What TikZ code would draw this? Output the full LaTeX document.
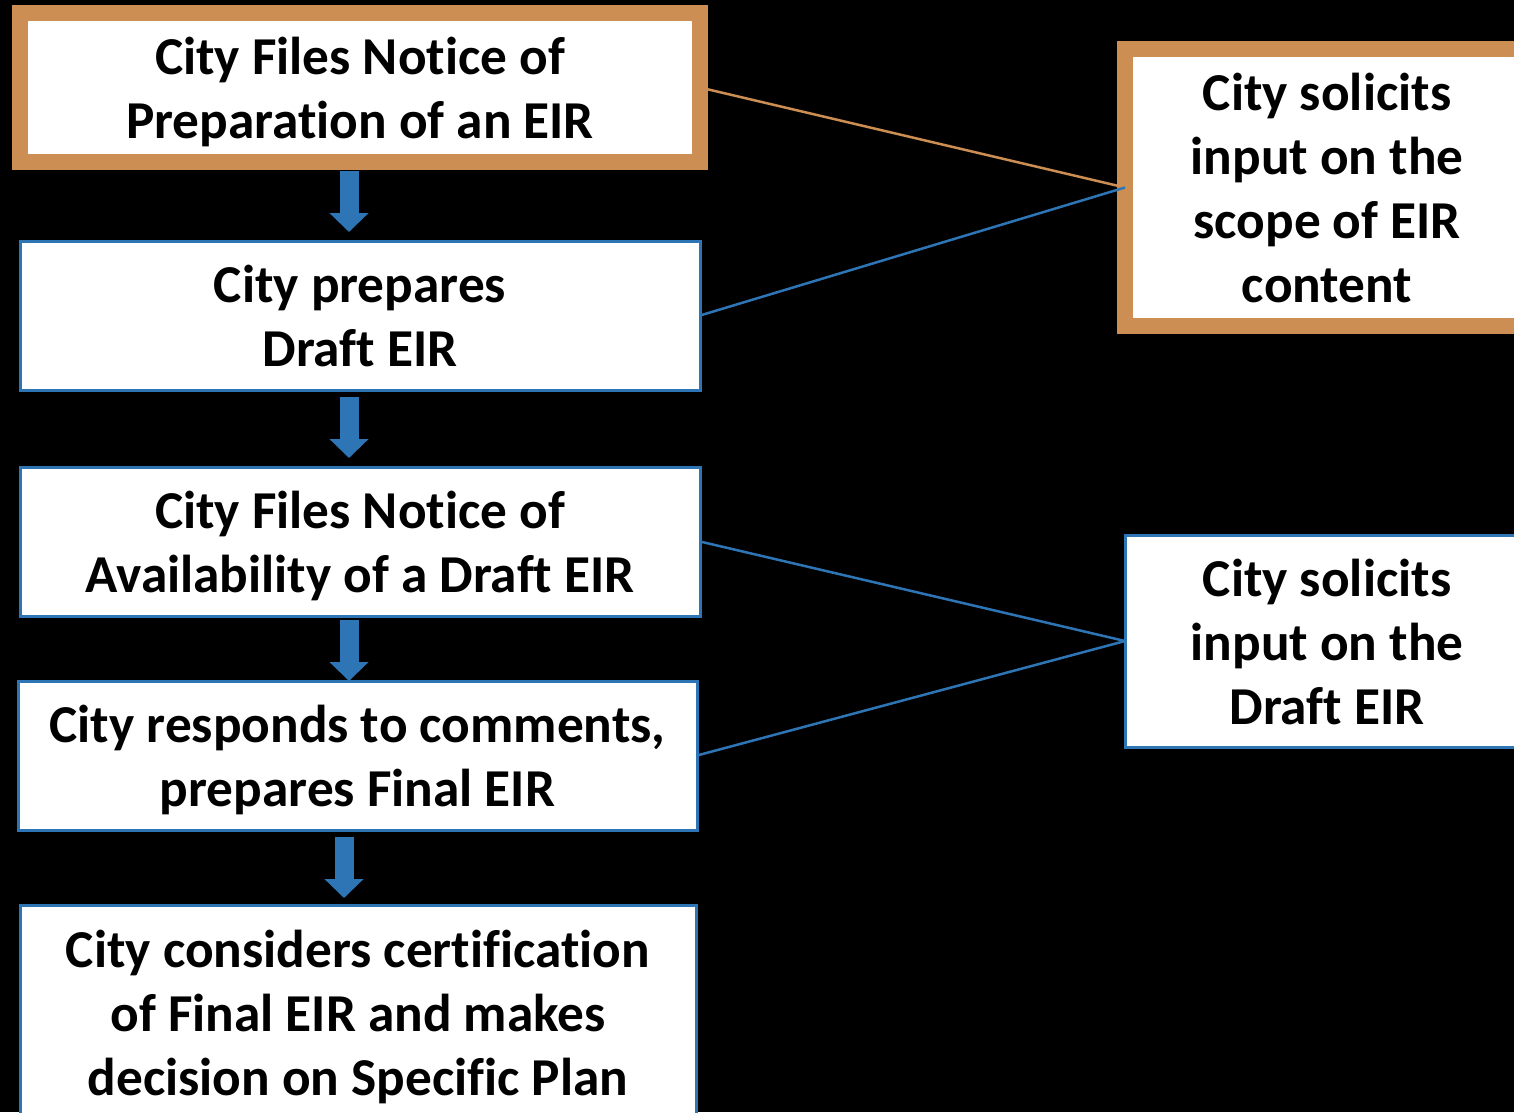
\documentclass[tikz,border=0pt]{standalone}
\usepackage{fontspec}
\setmainfont{Carlito}[Ligatures=NoCommon]
\usetikzlibrary{arrows.meta,calc}
\definecolor{flowblue}{RGB}{46,117,182}
\definecolor{floworange}{RGB}{204,142,82}
\newcommand{\tstrut}{\rule{0pt}{53pt}}
\tikzset{
  box/.style={draw=flowblue, line width=3pt, fill=white, inner sep=0pt, outer sep=0pt, align=center,
    font=\fontsize{53.3}{64}\selectfont\bfseries, text=black,
    execute at end node={\rule[-15pt]{0pt}{15pt}}},
  obox/.style={box, draw=floworange, line width=16pt},
  link/.style={draw=flowblue, line width=2.5pt},
  olink/.style={draw=floworange, line width=2.5pt},
  blockarrow/.style={draw=flowblue, line width=19pt, -{Triangle[width=38pt,length=19pt,fill=flowblue]}}
}
\begin{document}
\begin{tikzpicture}[x=1pt,y=-1pt]
\useasboundingbox (0,0) rectangle (1514,1112);
\fill[black] (0,0) rectangle (1514,1112);
\clip (0,0) rectangle (1514,1112);

\node[obox, minimum width=680pt, minimum height=149pt] (b1) at (360,87.5) {\tstrut City Files Notice of\\Preparation of an EIR};
\node[box, minimum width=680pt, minimum height=149pt] (b2) at (360,315.5) {\tstrut City prepares\\Draft EIR};
\node[box, minimum width=680pt, minimum height=149pt] (b3) at (360,541.5) {\tstrut City Files Notice of\\Availability of a Draft EIR};
\node[box, minimum width=679pt, minimum height=149pt] (b4) at (357.5,755.5) {\tstrut City responds to comments,\\prepares Final EIR};
\node[box, minimum width=676pt, minimum height=214pt] (b5) at (358,1012) {\tstrut City considers certification\\of Final EIR and makes\\decision on Specific Plan};

\node[obox, minimum width=404pt, minimum height=277pt] (ra) at (1327,187.5) {\tstrut City solicits\\input on the\\scope of EIR\\content};
\node[box, minimum width=404pt, minimum height=212pt] (rb) at (1327,641) {\tstrut City solicits\\input on the\\Draft EIR};

\draw[olink] (b1.east) -- (ra.west);
\draw[link] (b2.east) -- (ra.west);
\draw[link] (b3.east) -- (rb.west);
\draw[link] (b4.east) -- (rb.west);

\draw[blockarrow] ([xshift=-11pt,yshift=-9pt]b1.south) -- ([xshift=-11pt,yshift=9pt]b2.north);
\draw[blockarrow] ([xshift=-11pt,yshift=-7pt]b2.south) -- ([xshift=-11pt,yshift=9pt]b3.north);
\draw[blockarrow] ([xshift=-11pt,yshift=-4pt]b3.south) -- ([xshift=-8.5pt,yshift=0pt]b4.north);
\draw[blockarrow] ([xshift=-13.5pt,yshift=-7pt]b4.south) -- ([xshift=-14pt,yshift=7pt]b5.north);
\end{tikzpicture}
\end{document}
